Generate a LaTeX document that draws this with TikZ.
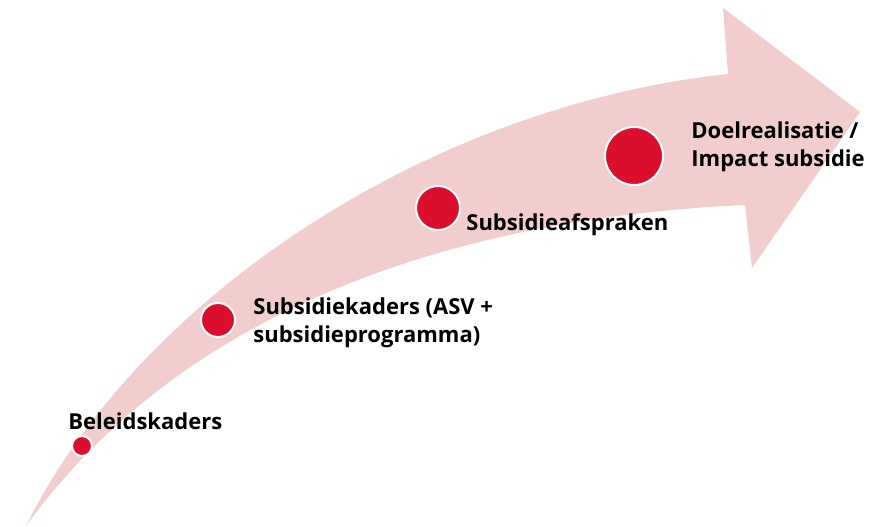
\documentclass[tikz,border=0pt]{standalone}
\usepackage{fontspec}
\setmainfont{Open Sans}

\begin{document}
\begin{tikzpicture}[
  x=0.5pt, y=0.5pt,
  dot/.style={circle, fill=dotred, draw=white, line width=1pt, inner sep=0pt},
  lbl/.style={anchor=base west, inner sep=0pt, align=left,
    font=\fontsize{11}{14}\selectfont\bfseries},
]
\definecolor{arrowpink}{RGB}{241,205,205}
\definecolor{dotred}{RGB}{219,14,46}

\useasboundingbox (0,0) rectangle (876,526);

% curved arrow
\fill [arrowpink] (26,0) .. controls (140,230) and (430,420) .. (728,452)
  -- (723,518) -- (860,414) -- (752,258) -- (745,321)
  .. controls (500,310) and (200,240) .. (26,0) -- cycle;

% steps
\node [dot, minimum size=10pt] (beleid) at (82,80) {};
\node [dot, minimum size=17pt] (kaders) at (218,206) {};
\node [dot, minimum size=22pt] (afspraken) at (438,318) {};
\node [dot, minimum size=29pt] (impact) at (634,370) {};

% labels (base = last line)
\node [lbl] (beleidtxt) at (68,97) {Beleidskaders};
\node [lbl] (kaderstxt) at (253,184) {Subsidiekaders (ASV +\\subsidieprogramma)};
\node [lbl] (afsprakentxt) at (466,296) {Subsidieafspraken};
\node [lbl] (impacttxt) at (691,360) {Doelrealisatie /\\Impact subsidie};

\end{tikzpicture}
\end{document}
